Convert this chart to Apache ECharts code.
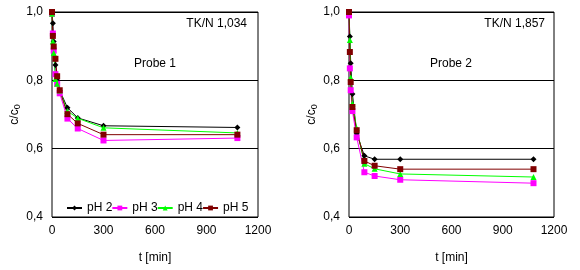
<!DOCTYPE html>
<html><head><meta charset="utf-8">
<script src="https://cdn.jsdelivr.net/npm/echarts@6/dist/echarts.min.js"></script>
<style>html,body{margin:0;padding:0;background:#fff}#c{width:580px;height:270px}</style>
</head><body><div id="c"></div>
<script>
// Probe 1 (TK/N 1,034)
const time1 = [0, 5, 10, 20, 30, 45, 90, 150, 300, 1080];
const p1_pH2 = [1.000, 0.967, 0.914, 0.845, 0.800, 0.770, 0.720, 0.690, 0.667, 0.662];
const p1_pH3 = [0.995, 0.937, 0.887, 0.818, 0.790, 0.762, 0.688, 0.659, 0.624, 0.631];
const p1_pH4 = [0.995, 0.914, 0.880, 0.804, 0.790, 0.770, 0.710, 0.689, 0.661, 0.646];
const p1_pH5 = [1.000, 0.930, 0.899, 0.863, 0.812, 0.771, 0.701, 0.674, 0.641, 0.641];
// Probe 2 (TK/N 1,857)
const time2 = [0, 5, 10, 20, 45, 90, 150, 300, 1080];
const p2_pH2 = [1.000, 0.928, 0.850, 0.760, 0.644, 0.579, 0.569, 0.569, 0.569];
const p2_pH3 = [0.990, 0.835, 0.771, 0.710, 0.633, 0.531, 0.520, 0.509, 0.499];
const p2_pH4 = [1.000, 0.918, 0.808, 0.732, 0.660, 0.556, 0.541, 0.526, 0.517];
const p2_pH5 = [1.000, 0.883, 0.795, 0.722, 0.654, 0.564, 0.550, 0.540, 0.540];
const seriesNames = ['pH 2', 'pH 3', 'pH 4', 'pH 5'];
const xTicks = {min: 0, max: 1200, step: 300};
const yTicks = {min: 0.4, max: 1.0, step: 0.2};
const panelLabels = ['Probe 1', 'Probe 2'];
const tkLabels = ['TK/N 1,034', 'TK/N 1,857'];

const FONT = 'Liberation Sans, Arial, sans-serif';
const styles = [
  {color: '#000000', symbol: 'diamond', size: 6},
  {color: '#FF00FF', symbol: 'rect', size: 6},
  {color: '#00FF00', symbol: 'triangle', size: 6},
  {color: '#800000', symbol: 'rect', size: 6}
];
const pair = (t, v) => t.map((x, i) => [x, v[i]]);
const panels = [[p1_pH2, p1_pH3, p1_pH4, p1_pH5], [p2_pH2, p2_pH3, p2_pH4, p2_pH5]];
const times = [time1, time2];

const grids = [
  {left: 52, top: 12, width: 206, height: 205, show: true, borderColor: '#000', borderWidth: 1, backgroundColor: 'transparent'},
  {left: 349, top: 12, width: 205, height: 205, show: true, borderColor: '#000', borderWidth: 1, backgroundColor: 'transparent'}
];
const xAxes = grids.map((g, i) => ({
  type: 'value', gridIndex: i, min: xTicks.min, max: xTicks.max, interval: xTicks.step,
  name: 't [min]', nameLocation: 'middle', nameGap: 35,
  nameTextStyle: {fontFamily: FONT, fontSize: 12, color: '#000'},
  axisLine: {show: false}, axisTick: {show: false}, splitLine: {show: false},
  axisLabel: {fontFamily: FONT, fontSize: 12, color: '#000', margin: 8, formatter: v => String(v)}
}));
const yAxes = grids.map((g, i) => ({
  type: 'value', gridIndex: i, min: yTicks.min, max: yTicks.max, interval: yTicks.step,
  name: 'c/c{s|0}', nameLocation: 'middle', nameGap: 28, nameRotate: 90,
  nameTextStyle: {fontFamily: FONT, fontSize: 12, color: '#000', rich: {s: {fontFamily: FONT, fontSize: 9, color: '#000', verticalAlign: 'bottom', padding: [6, 0, 0, 0]}}},
  axisLine: {show: false}, axisTick: {show: false},
  splitLine: {show: true, lineStyle: {color: '#000', width: 1}},
  axisLabel: {fontFamily: FONT, fontSize: 12, color: '#000', margin: 9, formatter: v => v.toFixed(1).replace('.', ',')}
}));
const series = [];
panels.forEach((vals, pi) => {
  vals.forEach((v, si) => {
    const s = styles[si];
    series.push({
      type: 'line', name: seriesNames[si], xAxisIndex: pi, yAxisIndex: pi,
      data: pair(times[pi], v), symbol: s.symbol, symbolSize: s.size,
      showAllSymbol: true, animation: false,
      lineStyle: {color: s.color, width: 1}, itemStyle: {color: s.color}
    });
  });
});
const graphic = [];
[[155, 58, 247, 18], [451, 58, 545, 18]].forEach((p, i) => {
  graphic.push({type: 'text', left: p[0] - 21, top: p[1], style: {text: panelLabels[i], font: '12px ' + FONT, fill: '#000'}});
  graphic.push({type: 'text', right: 580 - p[2], top: p[3], style: {text: tkLabels[i], font: '12px ' + FONT, fill: '#000'}});
});
const chart = echarts.init(document.getElementById('c'), null, {renderer: 'canvas'});
chart.setOption({
  animation: false,
  grid: grids, xAxis: xAxes, yAxis: yAxes, series: series, graphic: graphic,
  legend: {
    data: seriesNames, left: 66, top: 202, itemWidth: 15, itemHeight: 6, itemGap: -1,
    padding: 0,
    textStyle: {fontFamily: FONT, fontSize: 12, color: '#000'}
  }
});
</script></body></html>
